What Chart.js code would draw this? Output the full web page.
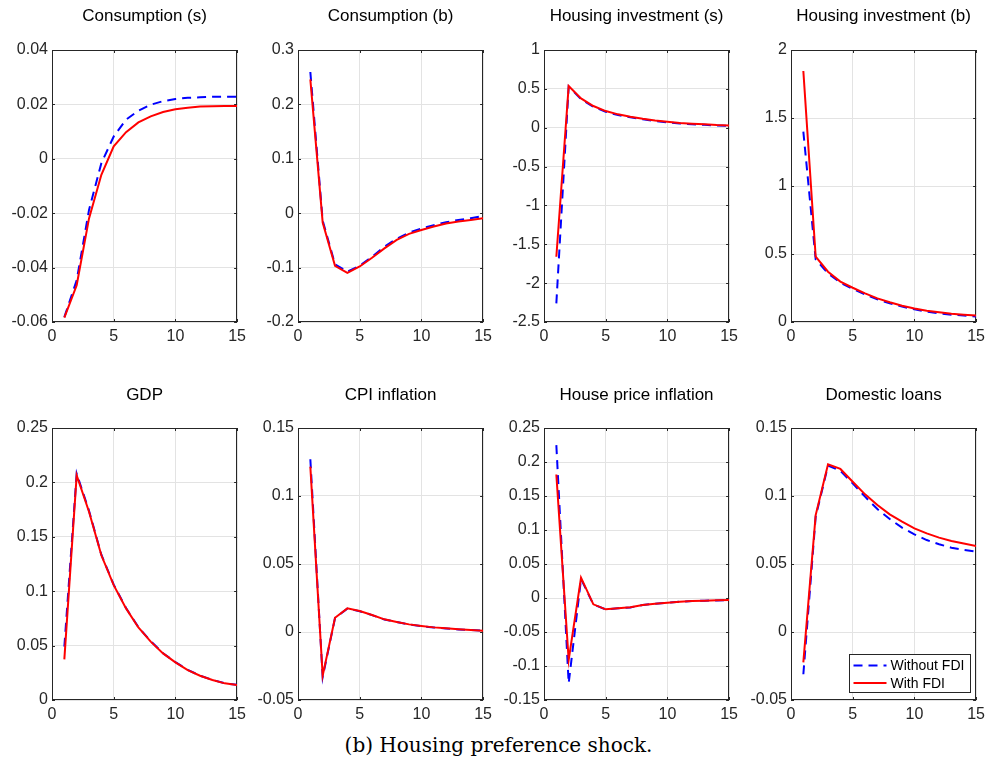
<!DOCTYPE html>
<html>
<head>
    <title>Housing preference shock</title>
    <script src="https://cdn.jsdelivr.net/npm/chart.js"></script>
    <style>
        body { margin: 0; background: #fff; width: 992px; height: 762px; position: relative; overflow: hidden; }
        .panel { position: absolute; width: 251px; height: 350px; }
        #caption {
            position: absolute; left: 0; width: 997px; top: 733px;
            text-align: center; font-family: "DejaVu Serif", serif; font-size: 20px;
            line-height: 24px; color: #000;
        }
    </style>
</head>
<body>
    <div class="panel" style="left:0px;top:0px"><canvas id="p0" width="251" height="350"></canvas></div>
    <div class="panel" style="left:246px;top:0px"><canvas id="p1" width="251" height="350"></canvas></div>
    <div class="panel" style="left:492px;top:0px"><canvas id="p2" width="251" height="350"></canvas></div>
    <div class="panel" style="left:739px;top:0px"><canvas id="p3" width="251" height="350"></canvas></div>
    <div class="panel" style="left:0px;top:378px"><canvas id="p4" width="251" height="350"></canvas></div>
    <div class="panel" style="left:246px;top:378px"><canvas id="p5" width="251" height="350"></canvas></div>
    <div class="panel" style="left:492px;top:378px"><canvas id="p6" width="251" height="350"></canvas></div>
    <div class="panel" style="left:739px;top:378px"><canvas id="p7" width="251" height="350"></canvas></div>
    <div id="caption">(b) Housing preference shock.</div>

    <script>
        // quarters after the shock
        const periods = [1, 2, 3, 4, 5, 6, 7, 8, 9, 10, 11, 12, 13, 14, 15];

        const consSWithout = [-0.0582, -0.0447, -0.0188, -0.0016, 0.0082, 0.0144, 0.0177, 0.0199, 0.0212, 0.0220, 0.0224, 0.0226, 0.0228, 0.0228, 0.0228];
        const consSWith    = [-0.0584, -0.0465, -0.0219, -0.0059, 0.0046, 0.0098, 0.0134, 0.0156, 0.0172, 0.0182, 0.0188, 0.0192, 0.0193, 0.0194, 0.0194];

        const consBWithout = [0.2595, -0.0135, -0.0940, -0.1076, -0.0966, -0.0800, -0.0615, -0.0470, -0.0357, -0.0280, -0.0220, -0.0166, -0.0123, -0.0092, -0.0050];
        const consBWith    = [0.2460, -0.0170, -0.0966, -0.1095, -0.0980, -0.0820, -0.0646, -0.0490, -0.0380, -0.0310, -0.0246, -0.0190, -0.0154, -0.0123, -0.0092];

        const hinvSWithout = [-2.26, 0.530, 0.368, 0.270, 0.205, 0.163, 0.133, 0.108, 0.087, 0.070, 0.054, 0.045, 0.037, 0.029, 0.025];
        const hinvSWith    = [-1.66, 0.536, 0.377, 0.279, 0.214, 0.172, 0.142, 0.116, 0.094, 0.077, 0.060, 0.051, 0.043, 0.034, 0.030];

        const hinvBWithout = [1.40, 0.460, 0.358, 0.289, 0.243, 0.203, 0.167, 0.137, 0.113, 0.093, 0.076, 0.064, 0.054, 0.047, 0.040];
        const hinvBWith    = [1.846, 0.480, 0.370, 0.297, 0.252, 0.211, 0.174, 0.145, 0.120, 0.100, 0.083, 0.071, 0.061, 0.054, 0.047];

        const gdpWithout = [0.049, 0.208, 0.174, 0.1335, 0.106, 0.0845, 0.067, 0.054, 0.043, 0.0348, 0.0277, 0.0224, 0.0185, 0.0154, 0.0139];
        const gdpWith    = [0.0373, 0.2066, 0.173, 0.133, 0.1056, 0.0842, 0.0667, 0.0536, 0.0428, 0.0346, 0.0275, 0.0223, 0.0184, 0.0153, 0.0138];

        const cpiWithout = [0.127, -0.0331, 0.0103, 0.0172, 0.0153, 0.0124, 0.0092, 0.0073, 0.0055, 0.0043, 0.0033, 0.0026, 0.0019, 0.0014, 0.0009];
        const cpiWith    = [0.1216, -0.0321, 0.0105, 0.0174, 0.0154, 0.0125, 0.0093, 0.0074, 0.0056, 0.0044, 0.0034, 0.0027, 0.0020, 0.0015, 0.0010];

        const hpiWithout = [0.2248, -0.1254, 0.0280, -0.0095, -0.0168, -0.0151, -0.0138, -0.0104, -0.0084, -0.0070, -0.0055, -0.0045, -0.0040, -0.0035, -0.0031];
        const hpiWith    = [0.1817, -0.0910, 0.0299, -0.0093, -0.0167, -0.0150, -0.0137, -0.0103, -0.0083, -0.0069, -0.0054, -0.0044, -0.0039, -0.0034, -0.0030];

        const loansWithout = [-0.0311, 0.0848, 0.1223, 0.1186, 0.1093, 0.0995, 0.0904, 0.0831, 0.0767, 0.0718, 0.0676, 0.0645, 0.0620, 0.0603, 0.0591];
        const loansWith    = [-0.0223, 0.0860, 0.1233, 0.1199, 0.1105, 0.1012, 0.0934, 0.0865, 0.0811, 0.0762, 0.0725, 0.0694, 0.0669, 0.0650, 0.0632];

        const seriesNames = ['Without FDI', 'With FDI'];
        const xTicks = { min: 0, max: 15, step: 5 };

        const panels = [
            { title: 'Consumption (s)',        without: consSWithout, with: consSWith, min: -0.06, max: 0.04, step: 0.02 },
            { title: 'Consumption (b)',        without: consBWithout, with: consBWith, min: -0.2,  max: 0.3,  step: 0.1 },
            { title: 'Housing investment (s)', without: hinvSWithout, with: hinvSWith, min: -2.5,  max: 1,    step: 0.5 },
            { title: 'Housing investment (b)', without: hinvBWithout, with: hinvBWith, min: 0,     max: 2,    step: 0.5 },
            { title: 'GDP',                    without: gdpWithout,   with: gdpWith,   min: 0,     max: 0.25, step: 0.05 },
            { title: 'CPI inflation',          without: cpiWithout,   with: cpiWith,   min: -0.05, max: 0.15, step: 0.05 },
            { title: 'House price inflation',  without: hpiWithout,   with: hpiWith,   min: -0.15, max: 0.25, step: 0.05 },
            { title: 'Domestic loans',         without: loansWithout, with: loansWith, min: -0.05, max: 0.15, step: 0.05 }
        ];

        const axisColor = '#262626';
        const tickFont = { family: 'Liberation Sans, Arial, sans-serif', size: 16 };

        // matlab style box with inward tick marks
        const boxTicks = {
            id: 'boxTicks',
            beforeDatasetsDraw(chart) {
                const { ctx, chartArea: a, scales: { x, y } } = chart;
                ctx.save();
                ctx.strokeStyle = axisColor;
                ctx.lineWidth = 1;
                ctx.beginPath();
                x.ticks.forEach(t => {
                    const px = Math.round(x.getPixelForValue(t.value)) + 0.5;
                    ctx.moveTo(px, a.bottom); ctx.lineTo(px, a.bottom - 3);
                    ctx.moveTo(px, a.top); ctx.lineTo(px, a.top + 3);
                });
                y.ticks.forEach(t => {
                    const py = Math.round(y.getPixelForValue(t.value)) + 0.5;
                    ctx.moveTo(a.left, py); ctx.lineTo(a.left + 3, py);
                    ctx.moveTo(a.right, py); ctx.lineTo(a.right - 3, py);
                });
                ctx.stroke();
                ctx.strokeRect(Math.round(a.left) + 0.5, Math.round(a.top) + 0.5,
                    Math.round(a.width) - 1, Math.round(a.height) - 1);
                ctx.restore();
            }
        };

        // legend drawn in the lower right corner of the plot
        const insideLegend = {
            id: 'insideLegend',
            afterDatasetsDraw(chart) {
                const { ctx, chartArea: a } = chart;
                const w = 121, h = 38;
                const left = Math.round(a.right - 6 - w) + 0.5;
                const top = Math.round(a.bottom - 8 - h) + 0.5;
                ctx.save();
                ctx.fillStyle = '#fff';
                ctx.fillRect(left, top, w, h);
                ctx.strokeStyle = axisColor;
                ctx.lineWidth = 1;
                ctx.strokeRect(left, top, w, h);
                ctx.font = '14px Liberation Sans, Arial, sans-serif';
                ctx.textBaseline = 'middle';
                chart.data.datasets.forEach((ds, i) => {
                    const cy = top + 11 + i * 17.5;
                    ctx.beginPath();
                    ctx.strokeStyle = ds.borderColor;
                    ctx.lineWidth = ds.borderWidth;
                    ctx.setLineDash(ds.borderDash || []);
                    ctx.moveTo(left + 4, cy);
                    ctx.lineTo(left + 37, cy);
                    ctx.stroke();
                    ctx.setLineDash([]);
                    ctx.fillStyle = '#000';
                    ctx.fillText(ds.label, left + 41, cy + 1);
                });
                ctx.restore();
            }
        };

        function fmt(v) {
            return String(parseFloat(Number(v).toFixed(4)));
        }

        panels.forEach((p, i) => {
            const topRow = i < 4;
            const plugins = [boxTicks];
            if (i === 7) plugins.push(insideLegend);

            new Chart(document.getElementById('p' + i), {
                type: 'line',
                data: {
                    datasets: [
                        {
                            label: seriesNames[0],
                            data: periods.map((t, k) => ({ x: t, y: p.without[k] })),
                            borderColor: '#0000ff',
                            borderWidth: 2,
                            borderDash: [9, 6],
                            pointRadius: 0,
                            tension: 0,
                            order: 2
                        },
                        {
                            label: seriesNames[1],
                            data: periods.map((t, k) => ({ x: t, y: p.with[k] })),
                            borderColor: '#ff0000',
                            borderWidth: 2,
                            pointRadius: 0,
                            tension: 0,
                            order: 1
                        }
                    ]
                },
                options: {
                    responsive: false,
                    animation: false,
                    events: [],
                    layout: { padding: { left: 0, right: 12, top: 0, bottom: 0 } },
                    plugins: {
                        legend: { display: false },
                        tooltip: { enabled: false },
                        title: {
                            display: true,
                            text: p.title,
                            fullSize: false,
                            color: '#000',
                            font: { family: 'Liberation Sans, Arial, sans-serif', size: 17, weight: 'normal', lineHeight: 1.2 },
                            padding: topRow ? { top: 6, bottom: 23.6 } : { top: 7, bottom: 22.6 }
                        }
                    },
                    scales: {
                        x: {
                            type: 'linear',
                            min: xTicks.min,
                            max: xTicks.max,
                            grid: { color: '#e3e3e3', drawTicks: false },
                            border: { display: false },
                            ticks: {
                                stepSize: xTicks.step,
                                padding: 5,
                                color: axisColor,
                                font: tickFont,
                                maxRotation: 0,
                                autoSkip: false,
                                callback: fmt
                            },
                            afterFit: s => { s.height = 28; }
                        },
                        y: {
                            min: p.min,
                            max: p.max,
                            grid: { color: '#e3e3e3', drawTicks: false },
                            border: { display: false },
                            ticks: {
                                stepSize: p.step,
                                padding: 4,
                                color: axisColor,
                                font: tickFont,
                                autoSkip: false,
                                callback: fmt
                            },
                            afterFit: s => { s.width = 52; }
                        }
                    }
                },
                plugins: plugins
            });
        });
    </script>
</body>
</html>
